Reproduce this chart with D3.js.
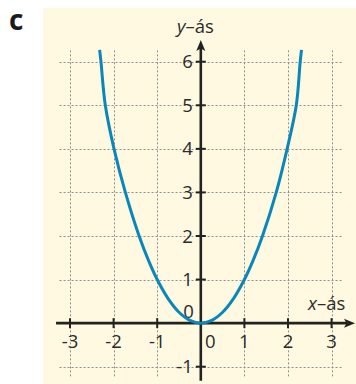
<!DOCTYPE html>
<html>
<head>
<meta charset="utf-8">
<script src="https://cdn.jsdelivr.net/npm/d3@7/dist/d3.min.js"></script>
<style>
  html, body { margin: 0; padding: 0; background: #ffffff; }
  svg { display: block; }
  text { font-family: "Open Sans", "Noto Sans", sans-serif; }
</style>
</head>
<body>
<script>
// Tick values on each axis
const xTicks = [-3, -2, -1, 1, 2, 3];
const yTicks = [-1, 1, 2, 3, 4, 5, 6];
const xTickLabels = ["-3", "-2", "-1", "1", "2", "3"];
const yTickLabels = ["-1", "1", "2", "3", "4", "5", "6"];
// Grid lines (integer steps)
const xGrid = [-3, -2, -1, 1, 2, 3];
const yGrid = [-1, 1, 2, 3, 4, 5, 6];
// Points along the curve
const curveX = [-2.32, -2.29, -2.19, -1.99, -1.73, -1.415, -1.2, -1, -0.75, -0.5, -0.25, 0, 0.25, 0.5, 0.75, 1, 1.2, 1.415, 1.73, 1.98, 2.19, 2.28, 2.31];
const curveY = [6.27, 6, 5, 4, 3, 2, 1.44, 1, 0.5625, 0.25, 0.0625, 0, 0.0625, 0.25, 0.5625, 1, 1.44, 2, 3, 4, 5, 6, 6.27];

const W = 356, H = 384;
const svg = d3.select("body").append("svg").attr("width", W).attr("height", H);

const x = d3.scaleLinear().domain([-3, 3]).range([70, 331.6]);
const y = d3.scaleLinear().domain([-1, 6]).range([366.7, 61.7]);

// cream panel
svg.append("rect").attr("x", 43).attr("y", 8).attr("width", W - 43).attr("height", H - 8)
  .attr("fill", "#fef9e0");

// section letter
svg.append("text").attr("x", 9).attr("y", 30).attr("font-size", 28).attr("font-weight", 700)
  .attr("fill", "#1a1a1a").text("c");

// dashed grid
const grid = svg.append("g").attr("stroke", "#8e8e8e").attr("stroke-width", 1)
  .attr("stroke-dasharray", "2,2");
grid.selectAll("line.v").data(xGrid).join("line").attr("class", "v")
  .attr("x1", d => Math.round(x(d)) + 0.5).attr("x2", d => Math.round(x(d)) + 0.5)
  .attr("y1", y(6.26)).attr("y2", y(-1.26));
grid.selectAll("line.h").data(yGrid).join("line").attr("class", "h")
  .attr("y1", d => Math.round(y(d)) + 0.5).attr("y2", d => Math.round(y(d)) + 0.5)
  .attr("x1", x(-3.24)).attr("x2", x(3.23));

// axes
const axisColor = "#222222";
const x0 = x(0), y0 = y(0);
svg.append("line").attr("x1", x(-3.32)).attr("x2", 347).attr("y1", y0).attr("y2", y0)
  .attr("stroke", axisColor).attr("stroke-width", 2.6);
svg.append("path").attr("d", `M355,${y0} L344,${y0 - 4.5} L346.5,${y0} L344,${y0 + 4.5} Z`)
  .attr("fill", axisColor);
svg.append("line").attr("x1", x0).attr("x2", x0).attr("y1", y(-1.32)).attr("y2", 48)
  .attr("stroke", axisColor).attr("stroke-width", 2.6);
svg.append("path").attr("d", `M${x0},40 L${x0 - 4.5},51 L${x0},48.5 L${x0 + 4.5},51 Z`)
  .attr("fill", axisColor);

// tick marks
svg.append("g").selectAll("line").data(xTicks).join("line")
  .attr("x1", d => x(d)).attr("x2", d => x(d)).attr("y1", y0 - 5).attr("y2", y0 + 5)
  .attr("stroke", axisColor).attr("stroke-width", 2);
svg.append("g").selectAll("line").data(yTicks).join("line")
  .attr("y1", d => y(d)).attr("y2", d => y(d)).attr("x1", x0 - 5).attr("x2", x0 + 5)
  .attr("stroke", axisColor).attr("stroke-width", 2);

// tick labels
const labelColor = "#2b2b2b";
svg.append("g").selectAll("text").data(xTicks).join("text")
  .attr("x", d => x(d)).attr("y", 348).attr("text-anchor", "middle")
  .attr("font-size", 18.5).attr("fill", labelColor)
  .text((d, i) => xTickLabels[i]);
svg.append("g").selectAll("text").data(yTicks).join("text")
  .attr("x", x0 - 8).attr("y", d => y(d) + 6.6).attr("text-anchor", "end")
  .attr("font-size", 18.5).attr("fill", labelColor)
  .text((d, i) => yTickLabels[i]);
// origin labels
svg.append("text").attr("x", x0 + 9.5).attr("y", 348).attr("text-anchor", "middle")
  .attr("font-size", 18.5).attr("fill", labelColor).text("0");
svg.append("text").attr("x", x0 - 7).attr("y", 318).attr("text-anchor", "end")
  .attr("font-size", 18.5).attr("fill", labelColor).text("0");

// axis titles
const yTitle = svg.append("text").attr("x", 177).attr("y", 33).attr("font-size", 18.5)
  .attr("fill", labelColor);
yTitle.append("tspan").attr("font-style", "italic").text("y");
yTitle.append("tspan").text("–ás");
const xTitle = svg.append("text").attr("x", 308).attr("y", 310).attr("font-size", 18.5)
  .attr("fill", labelColor);
xTitle.append("tspan").attr("font-style", "italic").text("x");
xTitle.append("tspan").text("–ás");

// curve
const pts = curveX.map((v, i) => [v, curveY[i]]);
const line = d3.line().x(d => x(d[0])).y(d => y(d[1])).curve(d3.curveCatmullRom.alpha(0.5));
svg.append("path").attr("d", line(pts)).attr("fill", "none")
  .attr("stroke", "#0a87b9").attr("stroke-width", 3).attr("stroke-linecap", "butt");
</script>
</body>
</html>
